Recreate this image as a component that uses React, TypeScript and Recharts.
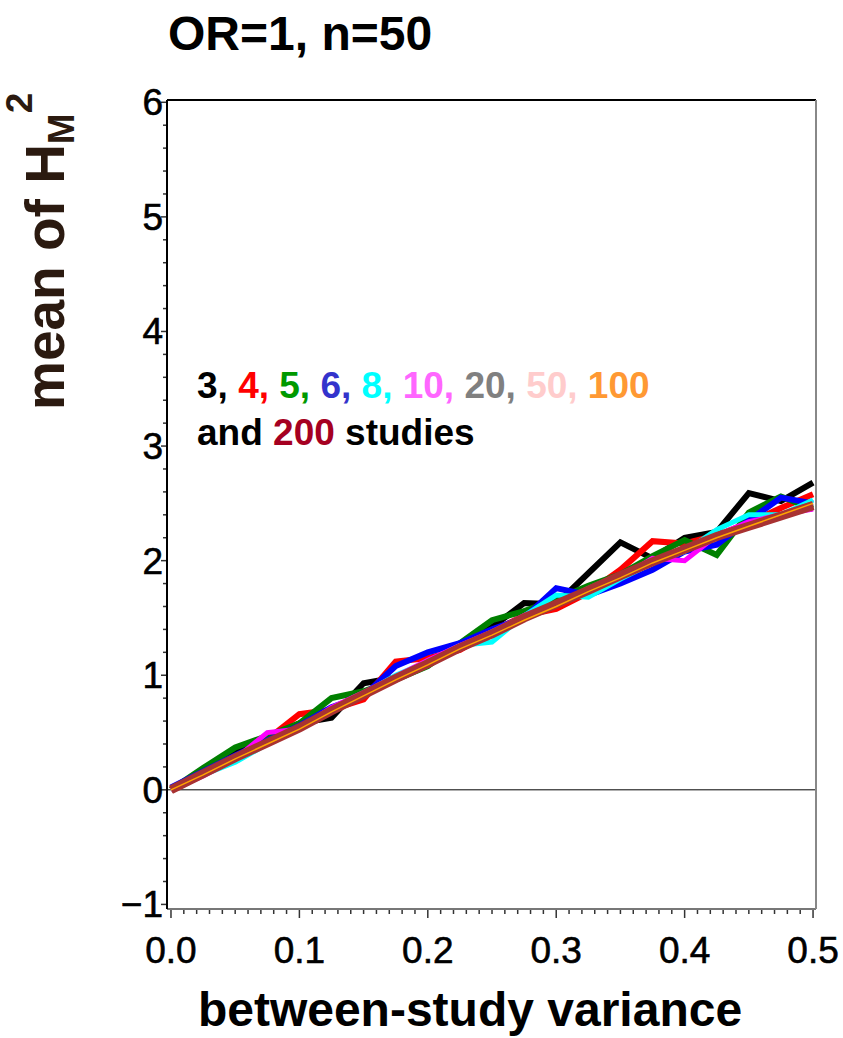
import { LineChart, Line, XAxis, YAxis, ReferenceLine } from 'recharts';

// between-study variance grid
const variance = [
  0, 0.025, 0.05, 0.075, 0.1, 0.125, 0.15, 0.175, 0.2, 0.225, 0.25,
  0.275, 0.3, 0.325, 0.35, 0.375, 0.4, 0.425, 0.45, 0.475, 0.5,
];

// mean of H_M^2, one list per number of studies
const k3 = [0, 0.17, 0.33, 0.45, 0.58, 0.63, 0.93, 0.98, 1.1, 1.25, 1.42, 1.63, 1.62, 1.89, 2.16, 2.02, 2.2, 2.25, 2.59, 2.52, 2.68];
const k4 = [0, 0.14, 0.28, 0.44, 0.66, 0.7, 0.79, 1.12, 1.15, 1.22, 1.38, 1.52, 1.58, 1.72, 1.92, 2.17, 2.15, 2.22, 2.33, 2.46, 2.58];
const k5 = [0, 0.19, 0.37, 0.47, 0.58, 0.8, 0.86, 0.96, 1.08, 1.28, 1.48, 1.56, 1.66, 1.78, 1.88, 2.04, 2.18, 2.05, 2.42, 2.56, 2.45];
const k6 = [0.02, 0.16, 0.3, 0.43, 0.56, 0.72, 0.82, 1.08, 1.2, 1.28, 1.4, 1.5, 1.76, 1.7, 1.8, 1.92, 2.08, 2.14, 2.35, 2.55, 2.5];
const k8 = [0, 0.13, 0.24, 0.4, 0.55, 0.7, 0.84, 1.0, 1.12, 1.26, 1.29, 1.52, 1.7, 1.68, 1.84, 1.98, 2.08, 2.27, 2.4, 2.4, 2.53];
const k10 = [0, 0.12, 0.27, 0.5, 0.53, 0.72, 0.85, 0.99, 1.13, 1.26, 1.38, 1.52, 1.63, 1.74, 1.85, 2.02, 2.0, 2.22, 2.34, 2.4, 2.45];
const k20 = [0, 0.14, 0.28, 0.42, 0.55, 0.7, 0.84, 0.98, 1.12, 1.24, 1.38, 1.5, 1.62, 1.76, 1.88, 2.0, 2.1, 2.22, 2.31, 2.4, 2.5];
const k50 = [0, 0.14, 0.27, 0.41, 0.54, 0.69, 0.82, 0.97, 1.1, 1.23, 1.36, 1.49, 1.62, 1.74, 1.86, 1.98, 2.1, 2.2, 2.3, 2.39, 2.48];
const k100 = [0, 0.13, 0.27, 0.4, 0.53, 0.68, 0.82, 0.96, 1.09, 1.23, 1.35, 1.48, 1.6, 1.73, 1.85, 1.98, 2.09, 2.2, 2.3, 2.4, 2.5];
const k200 = [0, 0.14, 0.28, 0.41, 0.54, 0.69, 0.83, 0.97, 1.1, 1.24, 1.36, 1.5, 1.62, 1.74, 1.87, 1.99, 2.1, 2.21, 2.3, 2.39, 2.48];

const xLabels = ['0.0', '0.1', '0.2', '0.3', '0.4', '0.5'];
const yLabels = ['\u22121', '0', '1', '2', '3', '4', '5', '6'];

const series = [
  { key: 'k3', values: k3, color: '#000000', width: 6 },
  { key: 'k4', values: k4, color: '#ff0000', width: 6 },
  { key: 'k5', values: k5, color: '#008000', width: 6 },
  { key: 'k6', values: k6, color: '#0000ff', width: 6 },
  { key: 'k8', values: k8, color: '#00ffff', width: 5 },
  { key: 'k10', values: k10, color: '#ff00ff', width: 5 },
  { key: 'k20', values: k20, color: '#808080', width: 5 },
  { key: 'k50', values: k50, color: '#ffc0cb', width: 4 },
  { key: 'k200', values: k200, color: '#a83232', width: 9 },
  { key: 'k100', values: k100, color: '#ffa500', width: 1.5 },
];

const legendLine1 = [
  { text: '3, ', color: '#000000' },
  { text: '4, ', color: '#ff0000' },
  { text: '5, ', color: '#009900' },
  { text: '6, ', color: '#3333cc' },
  { text: '8, ', color: '#00ffff' },
  { text: '10, ', color: '#ff66ff' },
  { text: '20, ', color: '#808080' },
  { text: '50, ', color: '#ffcccc' },
  { text: '100', color: '#ff9933' },
];

const data = variance.map((v, i) => {
  const row: Record<string, number> = { v };
  series.forEach((s) => (row[s.key] = s.values[i]));
  return row;
});

const xTicks = Array.from({ length: 51 }, (_, i) => i / 100);
const yTicks = Array.from({ length: 36 }, (_, i) => Math.round((i - 5) * 2) / 10);

const FONT = '"Liberation Sans", Arial, sans-serif';

function XTick({ x, y, payload }: any) {
  const v = payload.value;
  const idx = Math.round(v * 100);
  const major = idx % 10 === 0;
  return (
    <g>
      <line x1={x} x2={x} y1={y + 1} y2={y + (major ? 9 : 5)} stroke="#333" strokeWidth={1.5} />
      {major ? (
        <text x={x} y={y + 54} textAnchor="middle" fontSize={37} fontFamily={FONT} fill="#000" stroke="#000" strokeWidth={0.6}>
          {xLabels[idx / 10]}
        </text>
      ) : null}
    </g>
  );
}

function YTick({ x, y, payload }: any) {
  const v = payload.value;
  const idx = Math.round(v * 5);
  const major = idx % 5 === 0;
  return (
    <g>
      <line x1={x - 1} x2={x - (major ? 6 : 4)} y1={y} y2={y} stroke="#333" strokeWidth={1.5} />
      {major ? (
        <text x={x - 4} y={y + 13} textAnchor="end" fontSize={37} fontFamily={FONT} fill="#000" stroke="#000" strokeWidth={0.6}>
          {yLabels[idx / 5 + 1]}
        </text>
      ) : null}
    </g>
  );
}

export default function App() {
  return (
    <div style={{ position: 'absolute', left: 0, top: 0, width: 843, height: 1038, background: '#fff' }}>
      <LineChart
        width={843}
        height={1038}
        data={data}
        margin={{ top: 99, right: 26, bottom: 128, left: 166 }}
      >
        <XAxis
          dataKey="v"
          type="number"
          domain={[-0.0031, 0.5023]}
          allowDataOverflow
          ticks={xTicks}
          interval={0}
          tick={<XTick />}
          tickSize={0}
          tickMargin={0}
          tickLine={false}
          height={1}
          axisLine={{ stroke: '#777', strokeWidth: 2 }}
        />
        <XAxis
          xAxisId="top"
          orientation="top"
          dataKey="v"
          type="number"
          domain={[-0.0031, 0.5023]}
          tick={false}
          tickLine={false}
          height={1}
          axisLine={{ stroke: '#000', strokeWidth: 2 }}
        />
        <YAxis
          type="number"
          domain={[-1.04, 6.02]}
          allowDataOverflow
          ticks={yTicks}
          interval={0}
          tick={<YTick />}
          tickSize={0}
          tickMargin={0}
          tickLine={false}
          width={1}
          axisLine={{ stroke: '#000', strokeWidth: 2 }}
        />
        <YAxis
          yAxisId="right"
          orientation="right"
          type="number"
          domain={[-1.04, 6.02]}
          tick={false}
          tickLine={false}
          width={1}
          axisLine={{ stroke: '#888', strokeWidth: 2 }}
        />
        <ReferenceLine y={0} stroke="#000" strokeWidth={1} />
        {series.map((s) => (
          <Line
            key={s.key}
            dataKey={s.key}
            stroke={s.color}
            strokeWidth={s.width}
            dot={false}
            activeDot={false}
            isAnimationActive={false}
            strokeLinejoin="miter"
          />
        ))}
      </LineChart>
      <svg
        width={843}
        height={1038}
        style={{ position: 'absolute', left: 0, top: 0, pointerEvents: 'none' }}
      >
        <text x={168} y={50} fontSize={48} fontWeight="bold" fontFamily={FONT} fill="#000">
          OR=1, n=50
        </text>
        <text
          transform="translate(64, 410) rotate(-90)"
          fontSize={55}
          fontWeight="bold"
          fontFamily={FONT}
          fill="#2b1a10"
        >
          mean of H
          <tspan fontSize={37} dy={10}>M</tspan>
          <tspan fontSize={37} dy={-42}>2</tspan>
        </text>
        <text x={470} y={1026} textAnchor="middle" fontSize={48} fontWeight="bold" fontFamily={FONT} fill="#000">
          between-study variance
        </text>
        <text x={197} y={398} fontSize={37} fontWeight="bold" fontFamily={FONT}>
          {legendLine1.map((p, i) => (
            <tspan key={i} fill={p.color}>
              {p.text}
            </tspan>
          ))}
        </text>
        <text x={197} y={445} fontSize={37} fontWeight="bold" fontFamily={FONT} fill="#000">
          and <tspan fill="#a50021">200</tspan> studies
        </text>
      </svg>
    </div>
  );
}
